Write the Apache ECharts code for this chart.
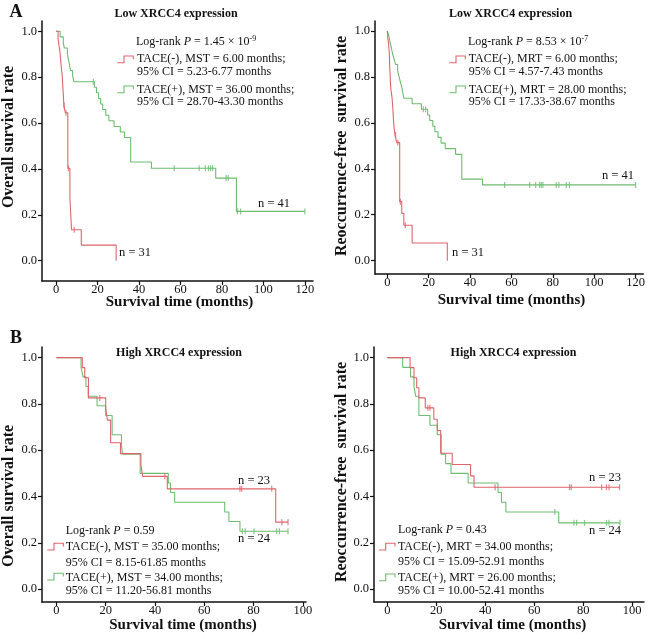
<!DOCTYPE html>
<html><head><meta charset="utf-8">
<script src="https://cdn.jsdelivr.net/npm/echarts@6/dist/echarts.min.js"></script>
<style>html,body{margin:0;padding:0;background:#fff}#c{width:648px;height:639px}</style>
</head><body><div id="c"></div>
<script>
// ---- tick labels ----
const xTicksA = [0, 20, 40, 60, 80, 100, 120];
const xTicksB = [0, 20, 40, 60, 80, 100];
const yTicks = [0, 0.2, 0.4, 0.6, 0.8, 1.0];

// ---- A: low XRCC4, overall survival ----
const osLowNeg = [[0,1],[1,0.968],[1.5,0.935],[2,0.903],[2.3,0.871],[2.6,0.839],[3,0.806],[3.2,0.774],[3.4,0.742],[3.6,0.710],[3.8,0.677],[4.5,0.645],[5.7,0.403],[6.7,0.272],[7.5,0.135],[12.2,0.068],[29,0]];
const osLowNegCens = [[3.9,0.677],[4.8,0.645],[6.0,0.403],[8.8,0.135]];
const osLowPos = [[0,1],[2,0.976],[3.5,0.951],[4,0.927],[5.5,0.902],[6,0.878],[6.5,0.854],[7,0.829],[8,0.805],[8.7,0.780],[18.5,0.756],[19.5,0.732],[20.5,0.707],[21.5,0.683],[22.5,0.659],[24,0.634],[25.5,0.610],[28,0.585],[31,0.561],[33,0.537],[36,0.430],[46,0.403],[77,0.360],[87,0.215],[120,0.215]];
const osLowPosCens = [[18,0.780],[57,0.403],[69,0.403],[72,0.403],[73.5,0.403],[74.5,0.403],[75.5,0.403],[82,0.360],[83,0.360],[87.5,0.215],[89,0.215],[120,0.215]];

// ---- A: low XRCC4, recurrence-free survival ----
const rfsLowNeg = [[0,1],[0.3,0.968],[0.7,0.935],[1,0.903],[1.1,0.871],[1.2,0.839],[1.4,0.806],[1.5,0.774],[1.8,0.742],[2.3,0.710],[2.6,0.677],[2.8,0.645],[3,0.613],[3.3,0.581],[3.7,0.548],[4.6,0.514],[6,0.257],[7,0.206],[8,0.154],[12,0.077],[29,0]];
const rfsLowNegCens = [[4,0.548],[5.1,0.514],[6.3,0.257],[8.7,0.154]];
const rfsLowPos = [[0,1],[0.8,0.976],[1.3,0.951],[2,0.927],[2.5,0.902],[3.3,0.878],[4,0.854],[5,0.829],[5.6,0.805],[6.3,0.780],[7,0.756],[7.5,0.732],[8,0.707],[12,0.683],[16.5,0.659],[19.5,0.634],[20.5,0.610],[22,0.585],[23,0.561],[24.5,0.537],[26,0.512],[28,0.488],[33,0.463],[36,0.355],[46,0.330],[120,0.330]];
const rfsLowPosCens = [[17.4,0.659],[18.5,0.659],[56.7,0.330],[68.8,0.330],[71.7,0.330],[73.6,0.330],[74.4,0.330],[75.2,0.330],[81.6,0.330],[82.9,0.330],[86.5,0.330],[88,0.330],[120,0.330]];

// ---- B: high XRCC4, overall survival ----
const osHighNeg = [[0,1],[10.5,0.957],[11.5,0.913],[13,0.826],[20,0.780],[20.7,0.730],[22,0.632],[26,0.585],[34.3,0.536],[35,0.487],[45,0.433],[89,0.289],[94,0.289]];
const osHighNegCens = [[17.6,0.826],[44,0.487],[74.5,0.433],[75.2,0.433],[87.4,0.433],[91.5,0.289],[94,0.289]];
const osHighPos = [[0,1],[10,0.958],[10.8,0.917],[12,0.875],[12.9,0.833],[16.5,0.792],[20,0.750],[22.6,0.667],[26.4,0.625],[26.8,0.583],[34,0.500],[45.4,0.458],[46.3,0.417],[48,0.375],[68.3,0.333],[70,0.292],[74.5,0.250],[94,0.250]];
const osHighPosCens = [[75.5,0.25],[76.6,0.25],[80.2,0.25],[89.4,0.25],[90.5,0.25],[94,0.25]];

// ---- B: high XRCC4, recurrence-free survival ----
const rfsHighNeg = [[0,1],[9.3,0.957],[10.9,0.913],[12,0.870],[12.9,0.826],[15.5,0.783],[19,0.734],[20.4,0.685],[21.8,0.587],[26.5,0.538],[34,0.489],[35.4,0.440],[95,0.440]];
const rfsHighNegCens = [[16.6,0.783],[17.4,0.783],[44,0.44],[74.4,0.44],[75.1,0.44],[87.5,0.44],[89.5,0.44],[90.5,0.44],[94.8,0.44]];
const rfsHighPos = [[0,1],[6.3,0.958],[9.5,0.917],[10.9,0.875],[11.6,0.833],[12.9,0.750],[17.4,0.708],[20.4,0.667],[22,0.583],[23.8,0.542],[26,0.500],[33,0.458],[45.2,0.417],[46.6,0.375],[48.4,0.333],[70,0.286],[95,0.286]];
const rfsHighPosCens = [[68.4,0.333],[76.2,0.286],[77.3,0.286],[80.5,0.286],[89.5,0.286],[90.5,0.286],[95,0.286]];

const RED = '#e0646c';
const GREEN = '#6dbd70';
const FONT = '"Liberation Serif", "Times New Roman", serif';

const panels = [
  {grid:{left:42,top:21,width:271,height:260}, xMin:-6.75, xMax:123.9, yMin:-0.0885, yMax:1.045, xTicks:xTicksA,
   neg:osLowNeg, negC:osLowNegCens, pos:osLowPos, posC:osLowPosCens},
  {grid:{left:375,top:21,width:269,height:253}, xMin:-5.93, xMax:123.7, yMin:-0.058, yMax:1.0435, xTicks:xTicksA,
   neg:rfsLowNeg, negC:rfsLowNegCens, pos:rfsLowPos, posC:rfsLowPosCens},
  {grid:{left:42,top:347,width:264,height:255}, xMin:-5.85, xMax:101.3, yMin:-0.056, yMax:1.046, xTicks:xTicksB,
   neg:osHighNeg, negC:osHighNegCens, pos:osHighPos, posC:osHighPosCens},
  {grid:{left:374,top:347,width:270,height:255}, xMin:-5.43, xMax:104.8, yMin:-0.056, yMax:1.046, xTicks:xTicksB,
   neg:rfsHighNeg, negC:rfsHighNegCens, pos:rfsHighPos, posC:rfsHighPosCens}
];

const grids = [], xAxes = [], yAxes = [], series = [];
panels.forEach((p, i) => {
  grids.push(Object.assign({containLabel:false}, p.grid));
  xAxes.push({
    gridIndex:i, type:'value', min:p.xMin, max:p.xMax,
    axisLine:{show:true, onZero:false, lineStyle:{color:'#111', width:1.5}},
    axisTick:{show:true, length:4, lineStyle:{color:'#111', width:1.2}, customValues:p.xTicks},
    axisLabel:{customValues:p.xTicks, margin:2, color:'#111', fontSize:12.5, fontFamily:FONT},
    splitLine:{show:false}
  });
  yAxes.push({
    gridIndex:i, type:'value', min:p.yMin, max:p.yMax,
    axisLine:{show:true, onZero:false, lineStyle:{color:'#111', width:1.5}},
    axisTick:{show:true, length:4, lineStyle:{color:'#111', width:1.2}, customValues:yTicks},
    axisLabel:{customValues:yTicks, margin:5, color:'#111', fontSize:12.5, fontFamily:FONT, formatter:v => v.toFixed(1)},
    splitLine:{show:false}
  });
  const mk = (data, color, name) => ({
    type:'line', name, xAxisIndex:i, yAxisIndex:i, data, step:'end', showSymbol:false, symbol:'none',
    lineStyle:{color, width:1.1}, itemStyle:{color}, animation:false, silent:true
  });
  const mc = (data, color) => ({
    type:'scatter', xAxisIndex:i, yAxisIndex:i, data, symbol:'rect', symbolSize:[1.2,6],
    itemStyle:{color}, animation:false, silent:true, z:3
  });
  series.push(mk(p.pos, GREEN, 'TACE(+)'), mc(p.posC, GREEN), mk(p.neg, RED, 'TACE(-)'), mc(p.negC, RED));
});

// ---- text helpers ----
function T(x, y, text, size) {
  return {type:'text', x, y, z:10, silent:true,
    style:{text, fill:'#111', font:size + 'px ' + FONT, align:'left', verticalAlign:'middle'}};
}
function B(x, y, text, size, align, rot) {
  return {type:'text', x, y, z:10, silent:true, rotation: rot||0,
    style:{text, fill:'#111', font:'bold ' + size + 'px ' + FONT, align:align||'center', verticalAlign:'middle'}};
}
function P(x, y, pre, val, sup) {
  const base = {fontSize:12, fontFamily:FONT, fill:'#111', lineHeight:14};
  let t = '{n|' + pre + '}{i|P}{n|' + val + '}';
  if (sup) t += '{s|' + sup + '}';
  return {type:'text', x, y, z:10, silent:true, style:{text:t, align:'left', verticalAlign:'middle',
    rich:{n:base, i:Object.assign({}, base, {fontStyle:'italic'}), s:{fontSize:8, fontFamily:FONT, fill:'#111', lineHeight:14, verticalAlign:'top', padding:[0,0,6,0]}}}};
}
function icon(x, y, color) {
  return {type:'polyline', x, y, z:10, silent:true,
    shape:{points:[[0,6.7],[6.7,6.7],[6.7,0],[16,0],[16,3.3]]},
    style:{stroke:color, lineWidth:1.1, fill:null}};
}

const graphic = [
  B(16, 12, 'A', 18), B(16, 338, 'B', 18),
  B(176, 13.5, 'Low XRCC4 expression', 12), B(510.5, 13.5, 'Low XRCC4 expression', 12),
  B(179, 352.5, 'High XRCC4 expression', 12), B(513.5, 352.5, 'High XRCC4 expression', 12),
  // axis titles
  B(9, 137, 'Overall survival rate', 16, 'center', Math.PI/2),
  B(341.5, 146, 'Reoccurrence-free  survival rate', 16, 'center', Math.PI/2),
  B(9, 496, 'Overall survival rate', 16, 'center', Math.PI/2),
  B(341.5, 472, 'Reoccurrence-free  survival rate', 16, 'center', Math.PI/2),
  B(179.5, 302, 'Survival time (months)', 15), B(511.5, 300, 'Survival time (months)', 15),
  B(183, 625, 'Survival time (months)', 15), B(512.5, 625, 'Survival time (months)', 15),
  // legends panel A-left
  P(136, 41.7, 'Log-rank ', ' = 1.45 × 10', '-9'),
  icon(117.3, 56, RED), T(137, 59.3, 'TACE(-), MST = 6.00 months;', 12), T(137, 71.7, '95% CI = 5.23-6.77 months', 12),
  icon(117.3, 86, GREEN), T(137, 90, 'TACE(+), MST = 36.00 months;', 12), T(137, 101.7, '95% CI = 28.70-43.30 months', 12),
  // legends panel A-right
  P(468, 41.7, 'Log-rank ', ' = 8.53 × 10', '-7'),
  icon(449.3, 56, RED), T(468.7, 59.3, 'TACE(-), MRT = 6.00 months;', 12), T(468.7, 71.7, '95% CI = 4.57-7.43 months', 12),
  icon(449.3, 86, GREEN), T(468.7, 90, 'TACE(+), MRT = 28.00 months;', 12), T(468.7, 101.7, '95% CI = 17.33-38.67 months', 12),
  // legends panel B-left
  P(65.7, 530.7, 'Log-rank ', ' = 0.59', null),
  icon(47.3, 543.3, RED), T(65.7, 547.3, 'TACE(-), MST = 35.00 months;', 12), T(65.7, 562.7, '95% CI = 8.15-61.85 months', 12),
  icon(47.3, 573.3, GREEN), T(65.7, 577.7, 'TACE(+), MST = 34.00 months;', 12), T(65.7, 590.7, '95% CI = 11.20-56.81 months', 12),
  // legends panel B-right
  P(398, 530.3, 'Log-rank ', ' = 0.43', null),
  icon(379, 543.3, RED), T(398, 547.3, 'TACE(-), MRT = 34.00 months;', 12), T(398, 561.5, '95% CI = 15.09-52.91 months', 12),
  icon(379, 574, GREEN), T(398, 577.5, 'TACE(+), MRT = 26.00 months;', 12), T(398, 590.7, '95% CI = 10.00-52.41 months', 12),
  // n labels
  T(119, 253, 'n = 31', 12.5), T(258, 204, 'n = 41', 12.5),
  T(452, 253, 'n = 31', 12.5), T(602, 175.7, 'n = 41', 12.5),
  T(238, 480.7, 'n = 23', 12.5), T(238, 539, 'n = 24', 12.5),
  T(589, 477.3, 'n = 23', 12.5), T(589, 531, 'n = 24', 12.5)
];

const chart = echarts.init(document.getElementById('c'), null, {renderer:'canvas'});
chart.setOption({
  backgroundColor:'#fff', animation:false,
  grid:grids, xAxis:xAxes, yAxis:yAxes, series, graphic
});
</script>
</body></html>
